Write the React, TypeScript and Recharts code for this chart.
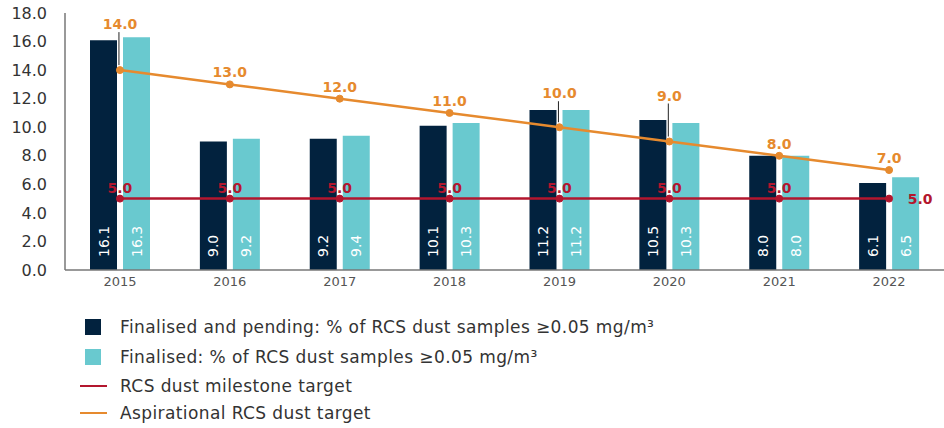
import { ComposedChart, Bar, Line, XAxis, YAxis, LabelList } from 'recharts';

const years = ['2015', '2016', '2017', '2018', '2019', '2020', '2021', '2022'];
const finalisedAndPending = [16.1, 9.0, 9.2, 10.1, 11.2, 10.5, 8.0, 6.1];
const finalised = [16.3, 9.2, 9.4, 10.3, 11.2, 10.3, 8.0, 6.5];
const milestoneTarget = [5, 5, 5, 5, 5, 5, 5, 5];
const aspirationalTarget = [14, 13, 12, 11, 10, 9, 8, 7];
const yTicks = [0, 2, 4, 6, 8, 10, 12, 14, 16, 18];

const NAVY = '#02223e';
const TEAL = '#69c9cf';
const RED = '#b3162e';
const ORANGE = '#e68a2e';
const FONT = '"DejaVu Sans", sans-serif';

const data = years.map((year, i) => ({
    year,
    pending: finalisedAndPending[i],
    finalised: finalised[i],
    milestone: milestoneTarget[i],
    aspirational: aspirationalTarget[i],
}));

// labels that sit higher, with a thin leader line down to the point
const raised: Record<number, number> = { 0: 46, 4: 34, 5: 46 };

function BarValue(props: any) {
    const { x, y, width, height, value } = props;
    const cx = x + width / 2;
    const cy = y + height - 13;
    return (
        <text
            x={cx}
            y={cy}
            transform={`rotate(-90, ${cx}, ${cy})`}
            textAnchor="start"
            dominantBaseline="central"
            fill="#fff"
            fontSize={14}
            fontFamily={FONT}
        >
            {Number(value).toFixed(1)}
        </text>
    );
}

function OrangeLabel(props: any) {
    const { x, y, value, index } = props;
    const off = raised[index] ?? 12;
    const ly = y - off;
    return (
        <g>
            {raised[index] !== undefined && (
                <line x1={x - 1} x2={x - 1} y1={ly + 8} y2={y - 5} stroke="#222" strokeWidth={1} />
            )}
            <text x={x} y={ly} textAnchor="middle" dominantBaseline="central" fill={ORANGE} fontSize={14} fontWeight={600} fontFamily={FONT}>
                {Number(value).toFixed(1)}
            </text>
        </g>
    );
}

function RedLabel(props: any) {
    const { x, y, value, index } = props;
    const last = index === years.length - 1;
    return (
        <text
            x={last ? x + 31 : x}
            y={last ? y : y - 11}
            textAnchor="middle"
            dominantBaseline="central"
            fill={RED}
            fontSize={14}
            fontWeight={600}
            fontFamily={FONT}
        >
            {Number(value).toFixed(1)}
        </text>
    );
}

const legendItems = [
    { label: 'Finalised and pending: % of RCS dust samples ≥0.05 mg/m³', color: NAVY, type: 'square', top: 318 },
    { label: 'Finalised: % of RCS dust samples ≥0.05 mg/m³', color: TEAL, type: 'square', top: 348 },
    { label: 'RCS dust milestone target', color: RED, type: 'line', top: 377 },
    { label: 'Aspirational RCS dust target', color: ORANGE, type: 'line', top: 404 },
];

export default function App() {
    return (
        <div style={{ position: 'absolute', left: 0, top: 0, width: 944, height: 428, background: '#fff', fontFamily: FONT }}>
            <ComposedChart
                width={944}
                height={300}
                data={data}
                margin={{ top: 13, right: 0, left: 0, bottom: 0 }}
                barSize={27}
                barGap={6}
            >
                <XAxis
                    dataKey="year"
                    height={30}
                    tickLine={false}
                    tickSize={0}
                    tickMargin={7}
                    axisLine={{ stroke: '#777', strokeWidth: 1.5 }}
                    tick={{ fill: '#555', fontSize: 13, fontFamily: FONT }}
                />
                <YAxis
                    width={65}
                    domain={[0, 18]}
                    ticks={yTicks}
                    interval={0}
                    tickLine={false}
                    tickSize={0}
                    tickMargin={18}
                    axisLine={{ stroke: '#777', strokeWidth: 1.5 }}
                    tick={{ fill: '#333', fontSize: 16, fontFamily: FONT }}
                    tickFormatter={(v: number) => v.toFixed(1)}
                />
                <Bar dataKey="pending" fill={NAVY} isAnimationActive={false}>
                    <LabelList dataKey="pending" content={<BarValue />} />
                </Bar>
                <Bar dataKey="finalised" fill={TEAL} isAnimationActive={false}>
                    <LabelList dataKey="finalised" content={<BarValue />} />
                </Bar>
                <Line
                    dataKey="milestone"
                    type="linear"
                    stroke={RED}
                    strokeWidth={2.5}
                    dot={{ r: 3.5, fill: RED, stroke: RED, strokeWidth: 1 }}
                    isAnimationActive={false}
                >
                    <LabelList dataKey="milestone" content={<RedLabel />} />
                </Line>
                <Line
                    dataKey="aspirational"
                    type="linear"
                    stroke={ORANGE}
                    strokeWidth={2.5}
                    dot={{ r: 3.5, fill: ORANGE, stroke: ORANGE, strokeWidth: 1 }}
                    isAnimationActive={false}
                >
                    <LabelList dataKey="aspirational" content={<OrangeLabel />} />
                </Line>
            </ComposedChart>
            {legendItems.map((item) => (
                <div key={item.label} style={{ position: 'absolute', left: 80, top: item.top, height: 18, display: 'flex', alignItems: 'center' }}>
                    {item.type === 'square' ? (
                        <div style={{ width: 16, height: 16, background: item.color, marginLeft: 5, marginRight: 19 }} />
                    ) : (
                        <div style={{ width: 27, height: 2, background: item.color, marginRight: 13 }} />
                    )}
                    <span style={{ fontSize: 17, letterSpacing: 0.4, color: '#333', whiteSpace: 'nowrap' }}>{item.label}</span>
                </div>
            ))}
        </div>
    );
}
